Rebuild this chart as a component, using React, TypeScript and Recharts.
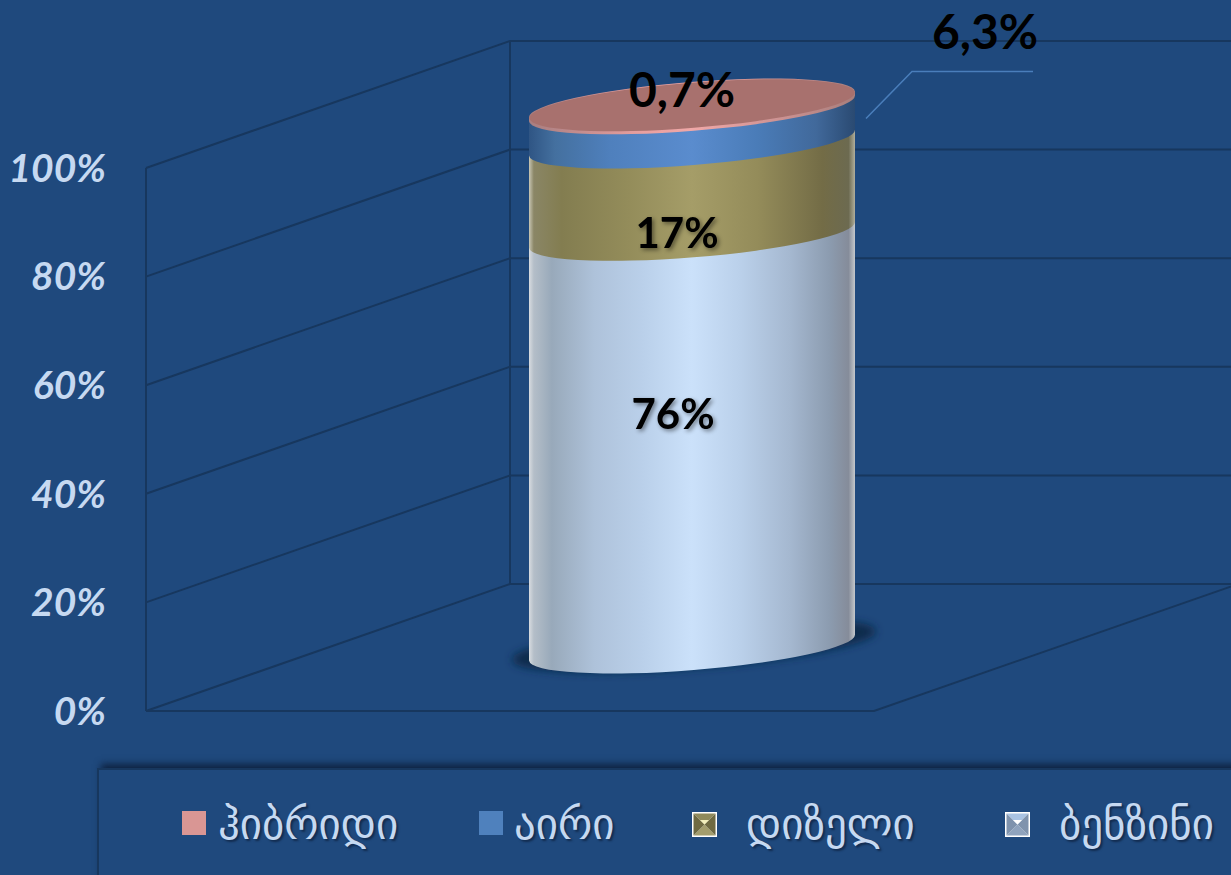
import React from "react";
import { BarChart, Bar, XAxis, YAxis, CartesianGrid, LabelList, Legend } from "recharts";

const categories = ["2023"];
const seriesNames = ["ბენზინი", "დიზელი", "აირი", "ჰიბრიდი"];
const benzinValues = [76];
const dieselValues = [17];
const gasValues = [6.3];
const hybridValues = [0.7];
const yTicks = [0, 20, 40, 60, 80, 100];

const chartData = categories.map((c, i) => ({
  name: c,
  benzin: benzinValues[i],
  diesel: dieselValues[i],
  gas: gasValues[i],
  hybrid: hybridValues[i],
}));

const W = 1231;
const H = 875;
const BG = "#1F497D";
const GRID = "#17375E";
const TICK = "#C6D9F1";
const DEPTH_X = 364;
const DEPTH_Y = 127;
const RY = 22.6;
const TILT = 13;

const gradients: Record<string, [number, string][]> = {
  benzin: [[0, "#d8dce0"], [0.015, "#b4bec8"], [0.07, "#98a9ba"], [0.2, "#aec2da"], [0.35, "#bad0ea"], [0.5, "#cbe1fa"], [0.65, "#bad0ea"], [0.8, "#a5b8d0"], [0.92, "#8c9cb0"], [0.98, "#858c9a"], [1, "#c4c8cc"]],
  diesel: [[0, "#c8c6b4"], [0.015, "#8a8666"], [0.1, "#837d50"], [0.3, "#938c5a"], [0.5, "#a59d68"], [0.7, "#948c5a"], [0.9, "#736c46"], [0.98, "#6c6a50"], [1, "#b0ae9c"]],
  gas: [[0, "#2f5584"], [0.08, "#44709f"], [0.25, "#4f80bd"], [0.5, "#5a8cce"], [0.7, "#4a7cb8"], [0.88, "#41699b"], [1, "#2a4a72"]],
  hybrid: [[0, "#a87e80"], [0.35, "#e8a0a0"], [0.5, "#f0a8a8"], [0.8, "#c89090"], [1, "#a87e7c"]],
};

function Cylinder(props: any) {
  const { x, y, width, height, seriesKey } = props;
  const cx = x + width / 2 + DEPTH_X / 2;
  const left = cx - width / 2;
  const right = cx + width / 2;
  const yT = y - DEPTH_Y / 2;
  const yB = y + height - DEPTH_Y / 2;
  const rx = Math.sqrt((width / 2) ** 2 + TILT ** 2);
  const rot = (-Math.atan2(TILT, width / 2) * 180) / Math.PI;
  const d =
    `M${left},${yB + TILT} A${rx},${RY} ${rot} 0 0 ${right},${yB - TILT} ` +
    `L${right},${yT - TILT} A${rx},${RY} ${rot} 0 0 ${left},${yT + TILT} Z`;
  return (
    <g>
      {seriesKey === "benzin" && (
        <ellipse
          cx={cx + 2}
          cy={yB - 2}
          rx={rx + 19}
          ry={RY}
          transform={`rotate(${rot} ${cx + 2} ${yB - 2})`}
          fill="#10294c"
          filter="url(#shadowBlur)"
        />
      )}
      <path d={d} fill={`url(#grad-${seriesKey})`} />
      {seriesKey === "hybrid" && (
        <ellipse
          cx={cx}
          cy={yT + 0.8}
          rx={rx - 0.3}
          ry={RY}
          transform={`rotate(${rot} ${cx} ${yT + 0.8})`}
          fill="#A8716E"
        />
      )}
    </g>
  );
}

function makeLabel(dx: number, dy: number, size: number, leader: boolean, shadow: boolean) {
  return function SegLabel(props: any) {
    const { x, y, width, height, value } = props;
    const cx = x + width / 2 + DEPTH_X / 2 + dx;
    const cy = y + height / 2 - DEPTH_Y / 2 + dy;
    const text = `${String(value).replace(".", ",")}%`;
    return (
      <g>
        {leader && (
          <polyline
            points={`${cx - 119},${cy + 88} ${cx - 73},${cy + 41} ${cx + 48},${cy + 41}`}
            fill="none"
            stroke="#4A7EBB"
            strokeWidth={1.5}
          />
        )}
        <text
          x={cx}
          y={cy}
          textAnchor="middle"
          dominantBaseline="central"
          fill="#000000"
          fontFamily="Lato"
          fontWeight={700}
          fontSize={size}
          style={shadow ? { filter: "drop-shadow(2px 2px 2px rgba(0,0,0,0.45))" } : undefined}
        >
          {text}
        </text>
      </g>
    );
  };
}

function GridLine(props: any) {
  const { x1, x2, y1, index } = props;
  const isFloor = Math.abs(y1 - 711) < 1;
  return (
    <g key={`g-${index}`} fill="none" stroke={GRID} strokeWidth={2}>
      <polyline points={`${x1},${y1} ${x1 + DEPTH_X},${y1 - DEPTH_Y} ${W},${y1 - DEPTH_Y}`} />
      {isFloor && (
        <>
          <polyline points={`${x1},${y1} ${x2},${y1} ${x2 + DEPTH_X},${y1 - DEPTH_Y}`} />
          <line x1={x1 + DEPTH_X} y1={y1 - DEPTH_Y} x2={x1 + DEPTH_X} y2={41} />
        </>
      )}
    </g>
  );
}

function Bevel({ a, b, c, d, e }: { a: string; b: string; c: string; d: string; e: string }) {
  return (
    <svg width={25} height={25} style={{ position: "absolute", left: 0, top: 0 }}>
      <rect width={25} height={25} fill="#ffffff" />
      <polygon points="1.5,1.5 23.5,1.5 12.5,12.5" fill={a} />
      <polygon points="1.5,23.5 23.5,23.5 12.5,12.5" fill={b} />
      <polygon points="1.5,1.5 1.5,23.5 12.5,12.5" fill={c} />
      <polygon points="23.5,1.5 23.5,23.5 12.5,12.5" fill={d} />
      <polygon points="8,8 17,8 12.5,12.5" fill={e} />
    </svg>
  );
}

const legendSlots = [
  { mx: 182, my: 811, tx: 218, key: "hybrid" },
  { mx: 479, my: 811, tx: 514, key: "gas" },
  { mx: 692, my: 812, tx: 746, key: "diesel" },
  { mx: 1005, my: 812, tx: 1059, key: "benzin" },
];

function LegendBox(props: any) {
  const items: any[] = props.payload || [];
  return (
    <div style={{ position: "absolute", left: 0, top: 0, width: W, height: H, overflow: "hidden" }}>
      <div
        style={{
          position: "absolute",
          left: 97,
          top: 768,
          width: W,
          height: 200,
          borderLeft: `2px solid ${GRID}`,
          borderTop: `2px solid ${GRID}`,
          boxShadow: "4px -4px 7px rgba(10,25,50,0.8)",
          background: BG,
        }}
      />
      {legendSlots.map((slot) => {
        const item = items.find((p) => p.dataKey === slot.key);
        if (!item) return null;
        return (
          <React.Fragment key={slot.key}>
            <div style={{ position: "absolute", left: slot.mx, top: slot.my, width: 25, height: 25 }}>
              {slot.key === "hybrid" && <div style={{ width: 24, height: 24, background: "#D99694" }} />}
              {slot.key === "gas" && <div style={{ width: 24, height: 24, background: "#4F81BD" }} />}
              {slot.key === "diesel" && <Bevel a="#8f8a5c" b="#a39d6d" c="#6f6a42" d="#6f6a42" e="#f2eebb" />}
              {slot.key === "benzin" && <Bevel a="#a9c3e3" b="#8fa3bd" c="#7f93ad" d="#7f93ad" e="#ffffff" />}
            </div>
            <span
              style={{
                position: "absolute",
                left: slot.tx,
                top: 800,
                lineHeight: "48px",
                fontFamily: "'DejaVu Sans', 'Noto Sans'",
                fontSize: 43,
                color: TICK,
                whiteSpace: "nowrap",
                textShadow: "2px 2px 2px rgba(10,25,50,0.6)",
              }}
            >
              {item.value}
            </span>
          </React.Fragment>
        );
      })}
    </div>
  );
}

export default function App() {
  return (
    <div style={{ position: "absolute", left: 0, top: 0, width: W, height: H, background: BG, overflow: "hidden" }}>
      <BarChart
        width={W}
        height={H}
        data={chartData}
        margin={{ top: 168, right: 357, bottom: 164, left: 0 }}
        barCategoryGap={0}
      >
        <defs>
          {Object.entries(gradients).map(([k, stops]) => (
            <linearGradient id={`grad-${k}`} key={k} x1="0" y1="0" x2="1" y2="0">
              {stops.map(([o, c]) => (
                <stop key={o} offset={o} stopColor={c} />
              ))}
            </linearGradient>
          ))}
          <filter id="shadowBlur" x="-20%" y="-50%" width="140%" height="200%">
            <feGaussianBlur stdDeviation="4" />
          </filter>
        </defs>
        <Legend
          content={<LegendBox />}
          layout="horizontal"
          verticalAlign="middle"
          align="center"
          wrapperStyle={{ left: 0, top: 0, width: W, height: H, pointerEvents: "none" }}
        />
        <CartesianGrid horizontal={GridLine as any} vertical={false} />
        <XAxis dataKey="name" hide />
        <YAxis
          width={146}
          domain={[0, 100]}
          ticks={yTicks}
          tickFormatter={(v: number) => `${v}%`}
          axisLine={{ stroke: GRID, strokeWidth: 2 }}
          tickLine={false}
          tickMargin={34}
          tick={{ fill: TICK, fontFamily: "Lato", fontWeight: 700, fontStyle: "italic", fontSize: 39 }}
        />
        <Bar dataKey="benzin" name={seriesNames[0]} stackId="a" barSize={326} isAnimationActive={false} shape={(p: any) => <Cylinder {...p} seriesKey="benzin" />}>
          <LabelList dataKey="benzin" content={makeLabel(-19, -28, 42, false, true) as any} />
        </Bar>
        <Bar dataKey="diesel" name={seriesNames[1]} stackId="a" barSize={326} isAnimationActive={false} shape={(p: any) => <Cylinder {...p} seriesKey="diesel" />}>
          <LabelList dataKey="diesel" content={makeLabel(-15, 43, 42, false, true) as any} />
        </Bar>
        <Bar dataKey="gas" name={seriesNames[2]} stackId="a" barSize={326} isAnimationActive={false} shape={(p: any) => <Cylinder {...p} seriesKey="gas" />}>
          <LabelList dataKey="gas" content={makeLabel(293, -95, 48, true, false) as any} />
        </Bar>
        <Bar dataKey="hybrid" name={seriesNames[3]} stackId="a" barSize={326} isAnimationActive={false} shape={(p: any) => <Cylinder {...p} seriesKey="hybrid" />}>
          <LabelList dataKey="hybrid" content={makeLabel(-10, -18, 48, false, false) as any} />
        </Bar>
      </BarChart>
    </div>
  );
}
